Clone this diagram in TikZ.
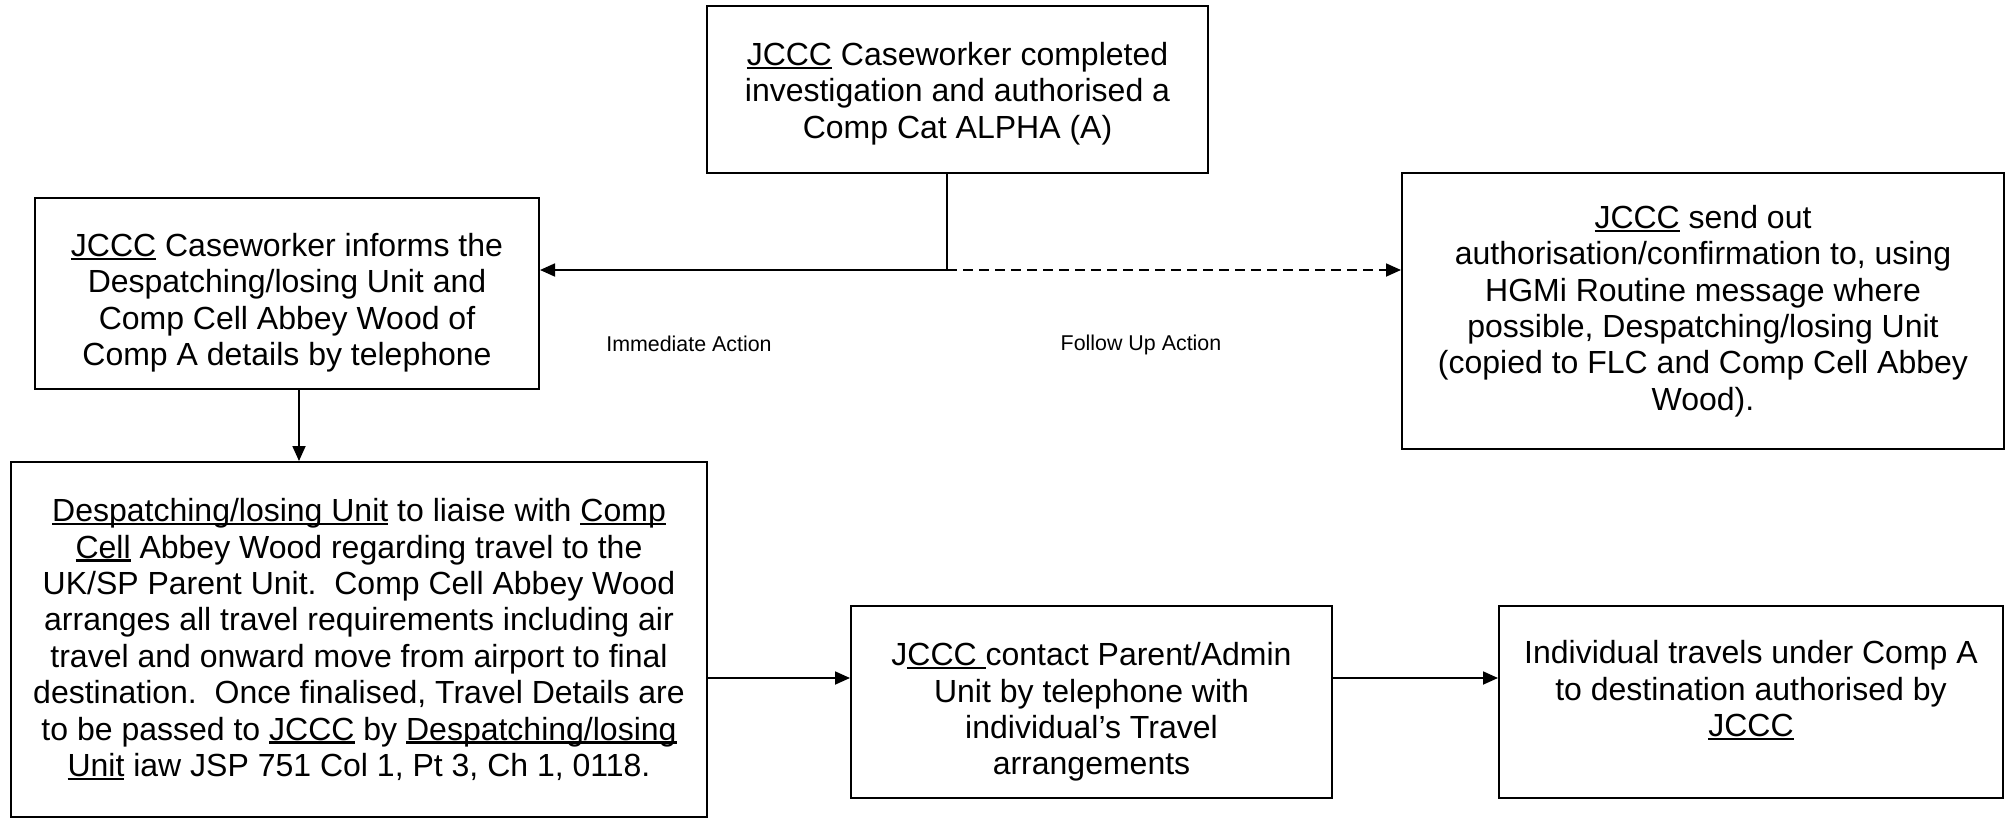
\documentclass[tikz,border=0pt]{standalone}
\usepackage{fontspec}
\setmainfont{Liberation Sans}
\usetikzlibrary{arrows.meta}
\frenchspacing
\newcommand\ulx[1]{\setbox0\hbox{#1}\rlap{\rule[-0.11em]{\wd0}{0.065em}}\box0\relax}
\newcommand\lowr[1]{\rule{0pt}{#1}}
\begin{document}
\begin{tikzpicture}[x=0.5pt,y=-0.5pt,
  box/.style={draw, line width=1pt, align=center, inner sep=0pt, font=\fontsize{16}{18.2}\selectfont},
  lbl/.style={font=\fontsize{10.7}{12}\selectfont},
  conn/.style={line width=0.9pt},
  arr/.style={conn, -{Triangle[length=7.5pt,width=6.5pt]}}]
\fill[white] (0,0) rectangle (2014,819);
\useasboundingbox (0,0) rectangle (2014,819);

\node[box, minimum width=250.5pt, minimum height=83.5pt] (top) at (957.5,89.5)
 {\lowr{15.7pt}\ulx{JCCC} Caseworker completed\\investigation and authorised a\\Comp Cat ALPHA (A)};

\node[box, minimum width=252pt, minimum height=95.5pt] (left) at (287,293.5)
 {\lowr{20.7pt}\ulx{JCCC} Caseworker informs the\\Despatching/losing Unit and\\Comp Cell Abbey Wood of\\Comp A details by telephone};

\node[box, minimum width=301pt, minimum height=138pt] (right) at (1703,311)
 {\ulx{JCCC} send out\\authorisation/confirmation to, using\\HGMi Routine message where\\possible, Despatching/losing Unit\\(copied to FLC and Comp Cell Abbey\\Wood).};

\node[box, minimum width=348pt, minimum height=177.5pt] (bl) at (359,639.5)
 {\ulx{Despatching/losing Unit} to liaise with \ulx{Comp}\\\ulx{Cell} Abbey Wood regarding travel to the\\UK/SP Parent Unit.\ \ Comp Cell Abbey Wood\\arranges all travel requirements including air\\travel and onward move from airport to final\\destination.\ \ Once finalised, Travel Details are\\to be passed to \ulx{JCCC} by \ulx{Despatching/losing}\\\ulx{Unit} iaw JSP 751 Col 1, Pt 3, Ch 1, 0118.};

\node[box, minimum width=240.5pt, minimum height=96pt] (mid) at (1091.5,702)
 {\lowr{21.7pt}J\ulx{CCC\ }contact Parent/Admin\\Unit by telephone with\\individual’s Travel\\arrangements};

\node[box, minimum width=252pt, minimum height=96pt] (rb) at (1751,702)
 {\lowr{21.7pt}Individual travels under Comp A\\to destination authorised by\\\ulx{JCCC}\\\strut};

\coordinate (j) at (947,270);
\draw[line width=0.7pt] (j |- top.south) -- (j);
\draw[arr] (j) -- (left.east |- j);
\draw[arr, dash pattern=on 5pt off 3pt] (j) -- (right.west |- j);

\draw[arr] ([xshift=6pt]left.south) -- ([xshift=6pt]left.south |- bl.north);

\coordinate (m) at ([yshift=12pt]mid.west);
\draw[arr] (bl.east |- m) -- (m);
\draw[arr] (m -| mid.east) -- ([yshift=12pt]rb.west);

\node[lbl] (imm) at (689,344) {Immediate Action};
\node[lbl] (fol) at (1141,345) {Follow Up Action};
\end{tikzpicture}
\end{document}
